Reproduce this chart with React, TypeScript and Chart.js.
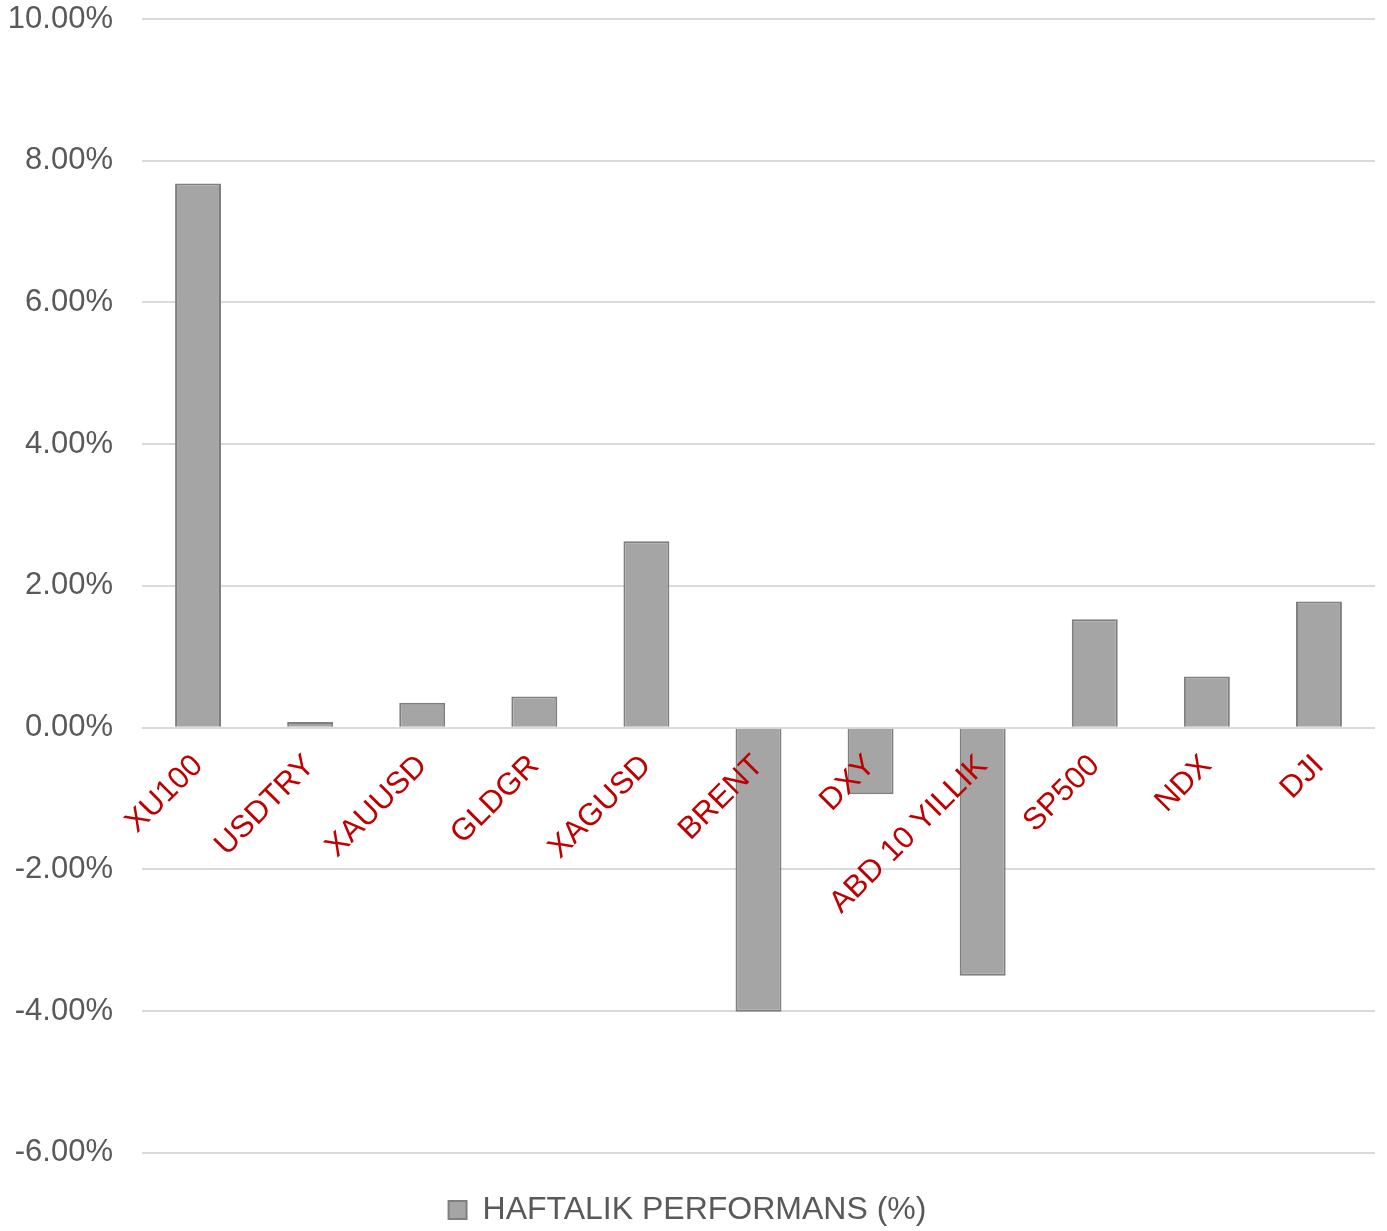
import React, { useEffect, useRef } from 'react';
import { Chart, registerables } from 'chart.js';

Chart.register(...registerables);

const categories = ['XU100', 'USDTRY', 'XAUUSD', 'GLDGR', 'XAGUSD', 'BRENT', 'DXY', 'ABD 10 YILLIK', 'SP500', 'NDX', 'DJI'];
const weeklyPerformance = [7.68, 0.08, 0.35, 0.44, 2.63, -4.01, -0.94, -3.5, 1.53, 0.72, 1.78];
const seriesLabel = 'HAFTALIK PERFORMANS (%)';
const yMin = -6;
const yMax = 10;
const yStep = 2;

const FONT = '"Liberation Sans", Arial, sans-serif';

export default function App() {
  const canvasRef = useRef<HTMLCanvasElement | null>(null);

  useEffect(() => {
    if (!canvasRef.current) return;
    const chart = new Chart(canvasRef.current, {
      type: 'bar',
      data: {
        labels: categories,
        datasets: [
          {
            label: seriesLabel,
            data: weeklyPerformance,
            backgroundColor: '#a5a5a5',
            borderColor: '#7f7f7f',
            borderWidth: 2,
            categoryPercentage: 1,
            barPercentage: 0.41,
          },
        ],
      },
      options: {
        animation: false,
        responsive: true,
        maintainAspectRatio: false,
        layout: { padding: { top: 19, right: 12, left: 0, bottom: -5 } },
        plugins: {
          tooltip: { enabled: false },
          legend: {
            position: 'bottom',
            title: { display: true, text: '', font: { size: 1 }, padding: { top: 0, bottom: 40 } },
            labels: {
              font: { family: FONT, size: 32 },
              color: '#595959',
              boxWidth: 18,
              boxHeight: 18,
              padding: 0,
            },
          },
        },
        scales: {
          x: {
            position: { y: 0 } as any,
            grid: { display: false, drawTicks: false },
            border: { display: false },
            ticks: {
              z: 1,
              color: '#c00000',
              font: { family: FONT, size: 31 },
              maxRotation: 45,
              minRotation: 45,
              padding: 20,
              autoSkip: false,
            },
            afterFit: (scale: any) => {
              scale.paddingLeft = 0;
              scale.paddingRight = 0;
              scale.paddingTop = 0;
              scale.paddingBottom = 0;
            },
          },
          y: {
            min: yMin,
            max: yMax,
            grid: { color: '#d9d9d9', lineWidth: 2, drawTicks: false },
            border: { display: false },
            ticks: {
              stepSize: yStep,
              color: '#595959',
              font: { family: FONT, size: 31 },
              padding: 29,
              callback: (v: any) => Number(v).toFixed(2) + '%',
            },
            afterFit: (scale: any) => {
              scale.width = 142;
              scale.paddingTop = 0;
              scale.paddingBottom = 0;
              scale.paddingLeft = 0;
              scale.paddingRight = 0;
            },
          },
        },
      },
    });
    return () => chart.destroy();
  }, []);

  return (
    <div style={{ position: 'fixed', left: 0, top: 0, width: 1387, height: 1231 }}>
      <canvas ref={canvasRef} />
    </div>
  );
}
